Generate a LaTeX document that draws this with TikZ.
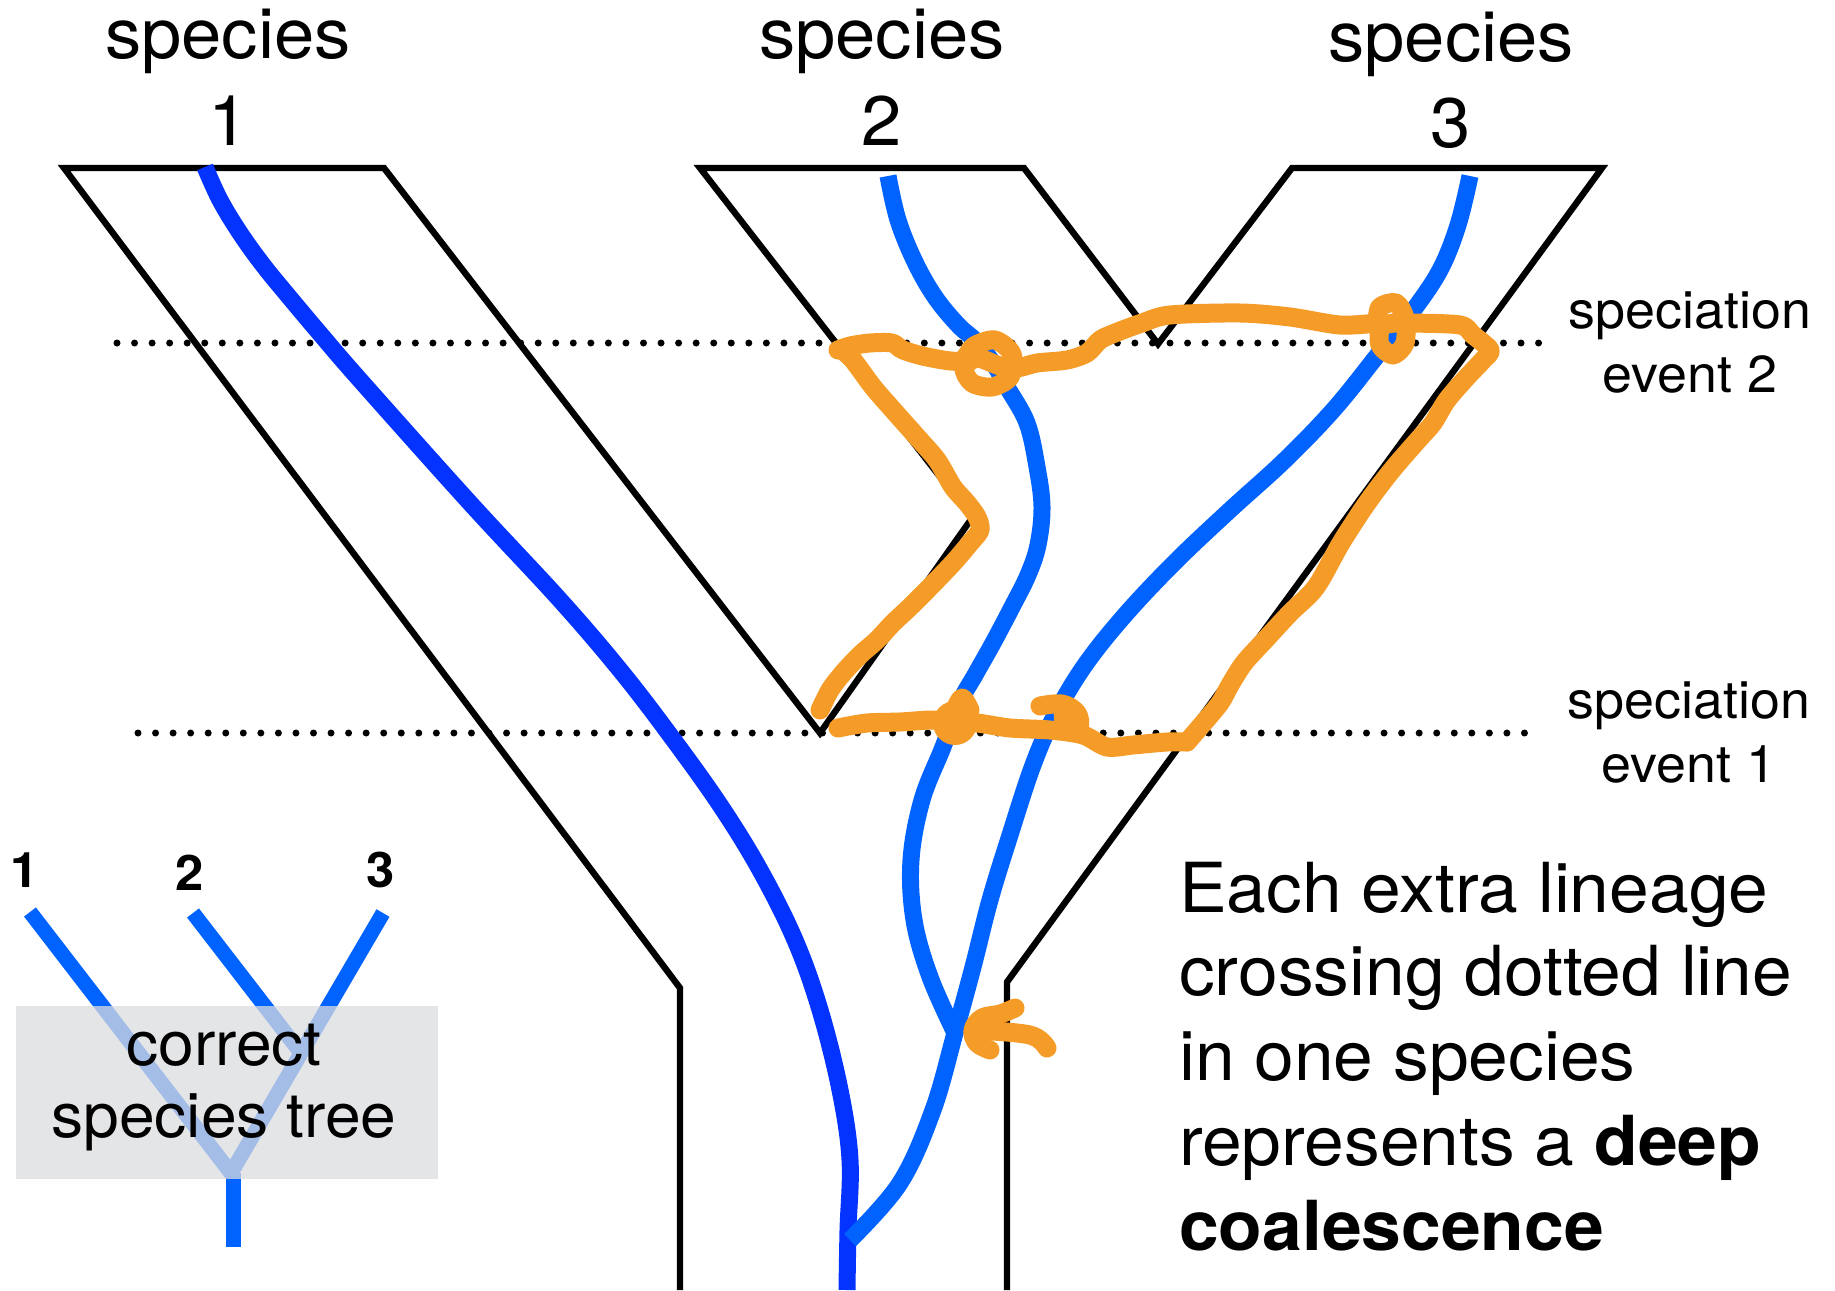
\documentclass[tikz,border=0pt]{standalone}
\usepackage{fontspec}
\setmainfont[FakeStretch=1.035]{TeX Gyre Heros}
\definecolor{deepblue}{RGB}{4,51,255}
\definecolor{geneblue}{RGB}{0,98,255}
\definecolor{scribbleorange}{RGB}{245,155,40}
\definecolor{panelgray}{RGB}{219,220,223}
\begin{document}
\begin{tikzpicture}[x=1pt,y=-1pt,
  tube/.style={line width=6.4pt, line join=miter},
  eventline/.style={line width=7pt, line cap=round, dash pattern=on 0pt off 17.55pt},
  lineageone/.style={deepblue, line width=17pt},
  lineage/.style={geneblue, line width=17pt},
  treebranch/.style={geneblue, line width=15pt},
  scribble/.style={scribbleorange, line width=19pt, line cap=round, line join=round},
  title/.style={anchor=base, inner sep=0pt, font=\fontsize{70}{84}\selectfont},
  eventlabel/.style={anchor=base, inner sep=0pt, font=\fontsize{52}{62}\selectfont},
  tiplabel/.style={anchor=base, inner sep=0pt, font=\fontsize{49}{58}\selectfont\bfseries},
  boxlabel/.style={anchor=base, inner sep=0pt, font=\fontsize{62}{72}\selectfont},
  note/.style={anchor=base west, inner sep=0pt, font=\fontsize{69}{84}\selectfont},
]
\useasboundingbox (0,0) rectangle (1835,1290);

% species tree drawn as a tube
\draw[tube] (680,1290) -- (680,988) -- (64,168) -- (384,168) -- (820,733)
  -- (972,518) -- (700,168) -- (1024,168) -- (1158,344) -- (1292,168)
  -- (1602,168) -- (1007,982) -- (1007,1290);

% speciation levels
\draw[eventline] (117,343) -- (1544,343);
\draw[eventline] (138,733) -- (1533,733);

% gene lineages
\draw[lineageone] plot[smooth, tension=0.6] coordinates {
  (205,167) (220,200) (240,233) (263,265) (290,298) (322,336) (360,380)
  (470,503) (560,600) (620,670) (670,735) (720,805) (760,870) (795,940)
  (820,1010) (840,1090) (850,1160) (848,1230) (847,1290)};
\draw[lineage] plot[smooth, tension=0.6] coordinates {
  (888,176) (898,220) (915,262) (935,297) (958,325) (977,342) (993,363)
  (1007,387) (1027,423) (1037,467) (1042,507) (1038,545) (1028,575)
  (1012,607) (993,643) (975,675) (960,702) (943,747) (922,800) (911,860)
  (914,920) (930,977) (955,1033)};
\draw[lineage] plot[smooth, tension=0.6] coordinates {
  (1470,176) (1458,225) (1440,270) (1412,312) (1380,352) (1335,408)
  (1285,460) (1230,510) (1175,562) (1125,615) (1085,665) (1055,715)
  (1033,765) (1010,835) (990,900) (973,967) (955,1033) (933,1110)
  (900,1183) (850,1240)};

% hand-drawn outline of the (2,3) ancestor
\draw[scribble] plot[smooth, tension=0.5] coordinates {
  (820,710) (830,690) (843,673) (860,655) (877,640) (893,623) (910,607)
  (930,587) (953,563) (970,543) (980,530) (977,517) (967,503) (953,487)
  (937,460) (917,437) (893,410) (873,387) (853,360) (842,350)};
\draw[scribble] plot[smooth, tension=0.5] coordinates {
  (838,350) (850,346) (870,343) (892,343) (903,350) (927,357) (960,361)
  (974,346) (995,340) (1012,354) (1010,377) (992,387) (972,383) (964,368)
  (977,358) (1000,366) (1017,368) (1037,363) (1067,360) (1087,353)
  (1100,340) (1115,333) (1142,323) (1170,315) (1240,313) (1290,317)
  (1340,325) (1377,323)};
\draw[scribble] plot[smooth, tension=0.5] coordinates {
  (1377,323) (1380,307) (1396,303) (1405,318) (1405,343) (1393,355)
  (1380,345) (1381,327) (1395,323) (1410,323) (1460,325) (1473,335)
  (1490,350) (1483,360) (1467,377) (1447,400) (1433,423) (1418,440)
  (1392,470) (1367,503) (1341,543) (1316,587) (1290,613) (1265,640)
  (1244,663) (1230,685) (1220,703) (1200,727) (1187,742)};
\draw[scribble] plot[smooth, tension=0.5] coordinates {
  (1187,742) (1167,742) (1133,745) (1107,747) (1083,735) (1050,730)
  (1010,728) (977,723) (955,723) (933,720) (900,722) (867,723) (838,728)};
\fill[scribbleorange] (955,723) circle[radius=22];
\draw[scribble] plot[smooth, tension=0.6] coordinates {(954,712) (962,698) (970,710)};
\draw[scribble] plot[smooth, tension=0.6] coordinates {
  (1040,706) (1062,704) (1077,713) (1079,727) (1068,730)};
\draw[scribble] (1063,710) -- (1064,729);

% arrow pointing at the merge of the two lineages
\draw[scribble] plot[smooth, tension=0.6] coordinates {
  (1015,1008) (1000,1014) (982,1018) (973,1030) (977,1043) (990,1050)};
\draw[scribble] plot[smooth, tension=0.6] coordinates {
  (976,1030) (1030,1035) (1047,1048)};

% titles
\node[title] (sp1) at (228,59) {species};
\node[title] (num1) at (229,145) {1};
\node[title] (sp2) at (882,59) {species};
\node[title] (num2) at (882,145) {2};
\node[title] (sp3) at (1451,61) {species};
\node[title] (num3) at (1451,147) {3};

\node[eventlabel] (ev2a) at (1690,328) {speciation};
\node[eventlabel] (ev2b) at (1690,392) {event 2};
\node[eventlabel] (ev1a) at (1689,718) {speciation};
\node[eventlabel] (ev1b) at (1689,782) {event 1};

% inset: the correct species tree
\draw[treebranch] (30,912) -- (231,1173) -- (383,913);
\draw[treebranch] (193,913) -- (301,1053);
\draw[treebranch] (233,1173) -- (233,1247);
\fill[panelgray, fill opacity=0.75] (16,1006) rectangle (438,1179);
\node[tiplabel] (t1) at (25,887) {1};
\node[tiplabel] (t2) at (190,890) {2};
\node[tiplabel] (t3) at (381,887) {3};
\node[boxlabel] (bx1) at (224,1065) {correct};
\node[boxlabel] (bx2) at (224,1137) {species tree};

% explanatory note
\node[note] (p1) at (1179,912) {Each extra lineage};
\node[note] (p2) at (1179,995) {crossing dotted line};
\node[note] (p3) at (1179,1080) {in one species};
\node[note] (p4) at (1179,1165) {represents a \textbf{deep}};
\node[note] (p5) at (1179,1250) {\textbf{coalescence}};
\end{tikzpicture}
\end{document}
